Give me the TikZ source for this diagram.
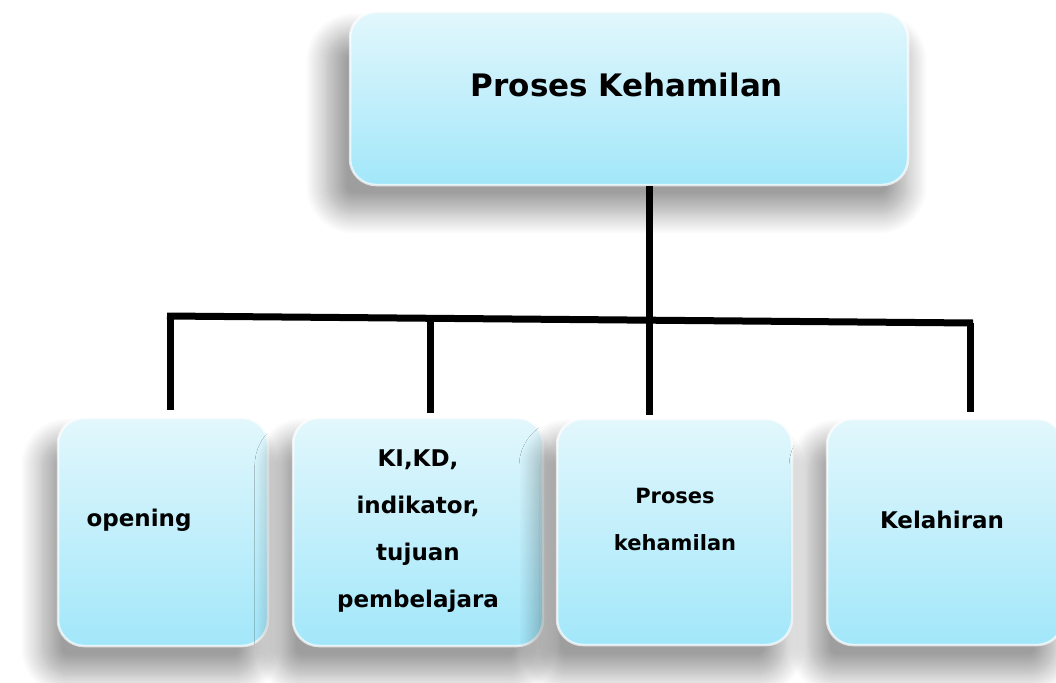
\documentclass[tikz,border=0pt]{standalone}
\usepackage{fontspec}
\setmainfont{DejaVu Sans}
\usetikzlibrary{shadows.blur}
\definecolor{boxtop}{HTML}{E2F7FC}
\definecolor{boxbot}{HTML}{A2E7FA}
\tikzset{
  box/.style={rounded corners=26pt, top color=boxtop, bottom color=boxbot,
    draw=white, draw opacity=0.7, line width=2.5pt, inner sep=0pt,
    blur shadow={shadow xshift=-12pt, shadow yshift=-24pt, shadow scale=1.04,
      shadow blur radius=20pt, shadow blur steps=20, shadow opacity=38}},
  lbl/.style={align=center, inner sep=0pt, font=\fontsize{23}{47}\selectfont\bfseries},
  conn/.style={line width=7pt, black}
}
\begin{document}
\begin{tikzpicture}[x=1pt,y=-1pt]
\useasboundingbox (0,0) rectangle (1056,682);
% boxes
\node[box, minimum width=558pt, minimum height=173pt] (top) at (629,98.5) {};
\node[box, minimum width=210pt, minimum height=228pt] (b1) at (163,532) {};
\node[box, minimum width=250pt, minimum height=228pt] (b2) at (418,532) {};
\node[box, minimum width=235pt, minimum height=226pt] (b3) at (674.5,532) {};
\node[box, minimum width=236pt, minimum height=226pt] (b4) at (945,532) {};
% texts
\node[lbl, font=\fontsize{31}{36}\selectfont\bfseries] (ttop) at (627,85) {Proses Kehamilan};
\node[lbl] (t1) at (139,520) {opening};
\node[lbl] (t2) at (418,531) {KI,KD,\\indikator,\\tujuan\\pembelajara};
\node[lbl, font=\fontsize{21}{47}\selectfont\bfseries] (t3) at (675,519) {Proses\\kehamilan};
\node[lbl] (t4) at (942,520) {Kelahiran};
% connectors
\coordinate (jl) at (167,316);
\coordinate (jr) at (973,323);
\coordinate (j1) at (170,316.5);
\coordinate (j2) at (430,319);
\coordinate (j3) at (649,320);
\coordinate (j4) at (970,323);
\coordinate (e1) at (170,410);
\coordinate (e2) at (430,413);
\coordinate (e3) at (649,415);
\coordinate (e4) at (970,412);
\draw[conn] (jl) -- (jr);
\draw[conn] (top.south -| j3) -- (e3);
\draw[conn] (j1) -- (e1);
\draw[conn] (j2) -- (e2);
\draw[conn] (j4) -- (e4);
\end{tikzpicture}
\end{document}
